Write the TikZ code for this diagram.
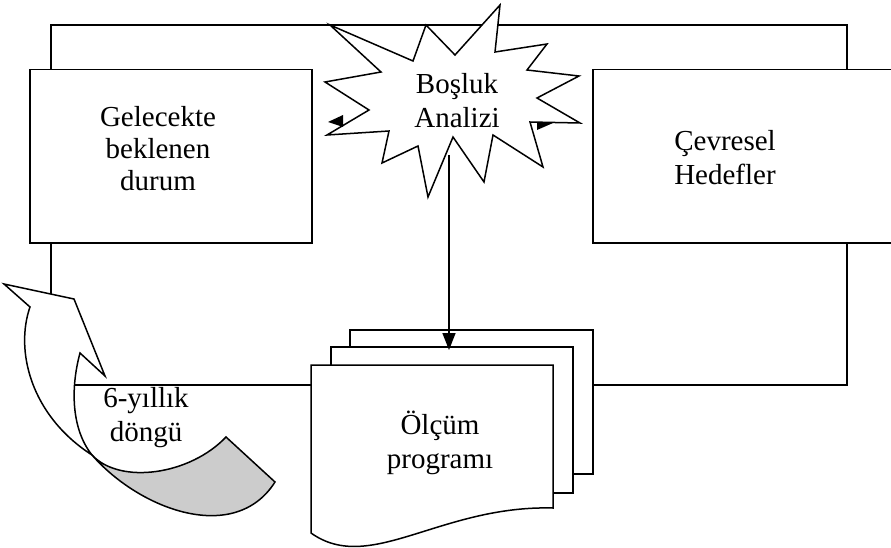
\documentclass[tikz,border=0pt]{standalone}
\usepackage{fontspec}
\setmainfont{Liberation Serif}
\usetikzlibrary{arrows.meta}
\begin{document}
\begin{tikzpicture}[x=1pt,y=-1pt, line width=1.5pt, line join=miter,
  box/.style={draw, fill=white, inner sep=0pt},
  lbl/.style={font=\fontsize{29}{34}\selectfont, align=center, inner sep=0pt},
  shaded/.style={draw, fill=black!20}]
\clip (0,0) rectangle (891,548);
\useasboundingbox (0,0) rectangle (891,548);
% loop line behind everything
\coordinate (la) at (51,294);
\coordinate (lt) at (51,25);
\coordinate (rt) at (847,25);
\coordinate (rb) at (847,385);
\coordinate (lb) at (73,385);
\draw (la) -- (lt) -- (rt) -- (rb) -- (lb);
% boxes
\node[box, anchor=north west, minimum width=282pt, minimum height=173pt] (fut) at (29,69) {};
\node[box, anchor=north west, minimum width=305pt, minimum height=173pt] (env) at (592,69) {};
% documents
\node[box, anchor=north west, minimum width=243pt, minimum height=144pt] (doc3) at (349,329) {};
\node[box, anchor=north west, minimum width=242pt, minimum height=146pt] (doc2) at (330,346) {};
\draw[fill=white] (311,365) coordinate (d1a) -- (553,365) coordinate (d1b) -- (553,508) coordinate (d1c)
  .. controls (440,505) and (370,575) .. (311,533) coordinate (d1d) -- cycle;
% starburst
\draw[fill=white] (330,25) -- (413,61) -- (426,25) -- (455,55) -- (500,5) -- (495,52) -- (547,44)
  -- (527,70) -- (579,76) -- (537,98) -- (580,123) -- (530,122) -- (543,167) -- (493,135)
  -- (484,182) -- (453,137) -- (428,197) -- (418,146) -- (382,163) -- (389,131) -- (327,135)
  -- (369,110) -- (325,82) -- (381,72) -- cycle;
\coordinate (sb) at (449,155);
\coordinate (sbend) at (449,350);
\draw[-{Triangle[length=17pt,width=13pt]}] (sb) -- (sbend);
% small arrowheads at the starburst
\fill (328,122) -- (343,115) -- (343,127) -- cycle;
\fill (537,123) -- (553,123) -- (537,130) -- cycle;
% curved up arrow
\draw[fill=white] (30,307) -- (4,284) -- (74,299) -- (105,376) -- (80,353)
  .. controls (70,390) and (72,430) .. (92,455)
  .. controls (30,415) and (15,350) .. (30,307) -- cycle;
\draw[shaded] (92,455) .. controls (120,485) and (190,475) .. (226,437) -- (275,482)
  .. controls (235,545) and (140,510) .. (92,455) -- cycle;
% texts
\node[lbl, font=\fontsize{29}{32}\selectfont] (t1) at (158,149) {Gelecekte\\beklenen\\durum};
\node[lbl, align=left] (t2) at (725,158) {Çevresel\\Hedefler};
\node[lbl] (t3) at (457,101) {Boşluk\\Analizi};
\node[lbl] (t4) at (440,443) {Ölçüm\\programı};
\node[lbl] (t5) at (146,418) {6-yıllık\\döngü};
\end{tikzpicture}
\end{document}
